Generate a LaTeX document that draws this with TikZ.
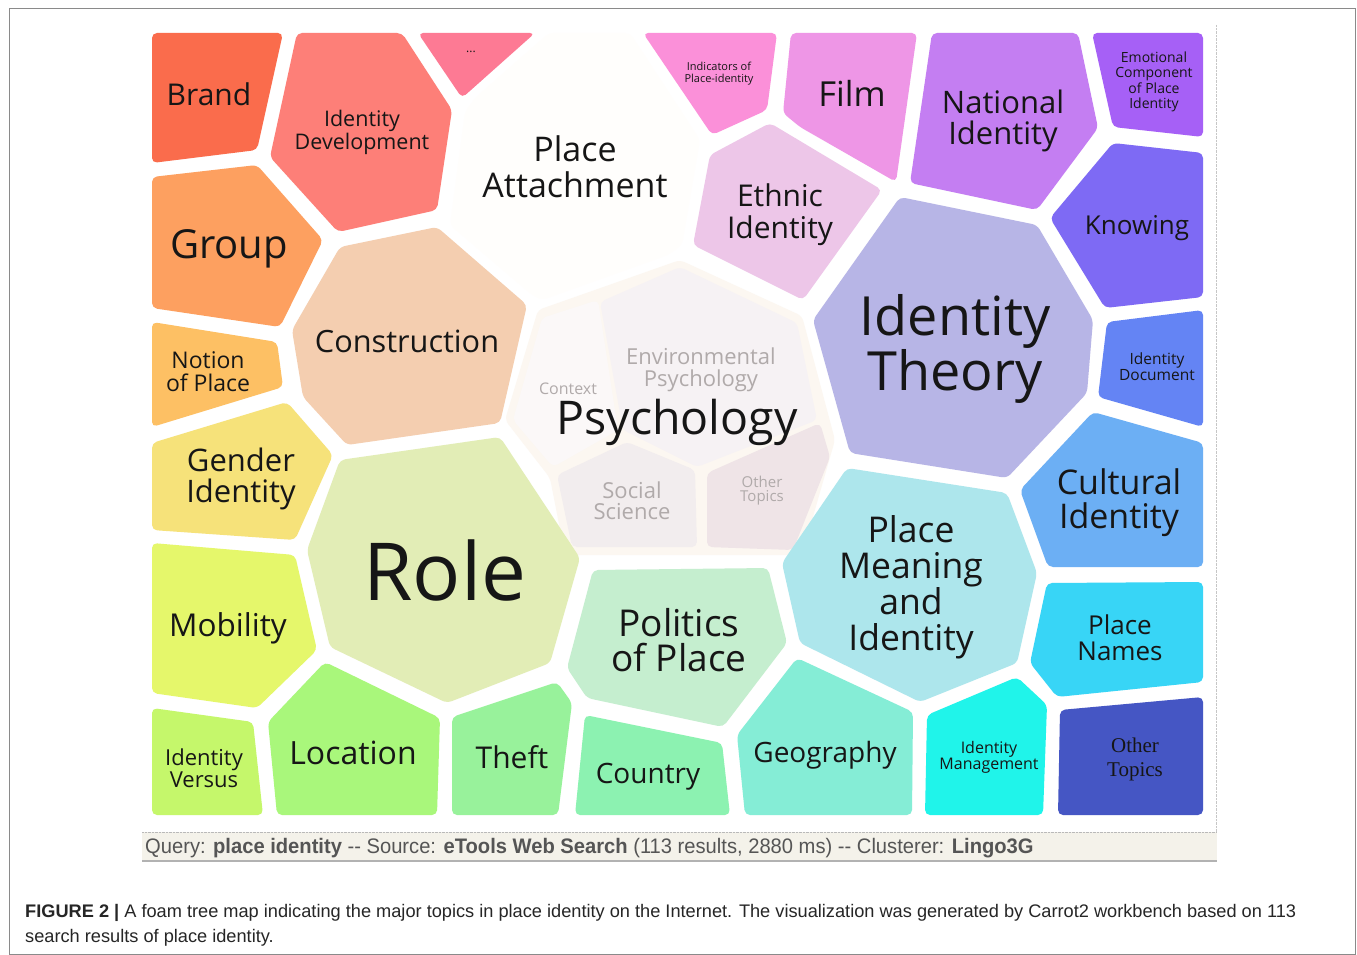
\documentclass[tikz,border=0pt]{standalone}
\usepackage{fontspec}
\setmainfont{Liberation Sans}
\newfontfamily\segoe{Open Sans}
\newfontfamily\timesfont{Liberation Serif}
\newfontfamily\statusfont[FakeStretch=0.96]{Liberation Sans}

\definecolor{cBrand}{HTML}{FA6C4C}
\definecolor{cIdDev}{HTML}{FD7F78}
\definecolor{cDots}{HTML}{FD7A94}
\definecolor{cAttach}{HTML}{FFFEFC}
\definecolor{cIndic}{HTML}{FB90D9}
\definecolor{cFilm}{HTML}{EE96E6}
\definecolor{cNation}{HTML}{C47EF2}
\definecolor{cEmot}{HTML}{A660F6}
\definecolor{cEthnic}{HTML}{EDC6E8}
\definecolor{cKnow}{HTML}{7E6AF4}
\definecolor{cGroup}{HTML}{FDA060}
\definecolor{cConstr}{HTML}{F4CEB0}
\definecolor{cTheory}{HTML}{B7B5E6}
\definecolor{cIdDoc}{HTML}{6484F4}
\definecolor{cNotion}{HTML}{FDC064}
\definecolor{cGender}{HTML}{F6E27A}
\definecolor{cPsyOut}{HTML}{FCF7F1}
\definecolor{cContext}{HTML}{FBF8F8}
\definecolor{cEnvPsy}{HTML}{F6F2F4}
\definecolor{cSocial}{HTML}{F2EDEE}
\definecolor{cPsyOther}{HTML}{EFE4E7}
\definecolor{cCultural}{HTML}{6CAFF4}
\definecolor{cRole}{HTML}{E2EDB6}
\definecolor{cMobil}{HTML}{E5F76B}
\definecolor{cPolit}{HTML}{C5EECF}
\definecolor{cMeaning}{HTML}{ADE6EC}
\definecolor{cNames}{HTML}{38D5F6}
\definecolor{cVersus}{HTML}{C5F76B}
\definecolor{cLocation}{HTML}{A9F77B}
\definecolor{cTheft}{HTML}{98F29B}
\definecolor{cCountry}{HTML}{8CF2B1}
\definecolor{cGeo}{HTML}{85EDD6}
\definecolor{cIdMan}{HTML}{20F4EA}
\definecolor{cOther}{HTML}{4556C4}
\definecolor{txt}{HTML}{161616}
\definecolor{psytxt}{HTML}{B0AAAA}
\definecolor{statbg}{HTML}{F4F2EA}
\definecolor{stattxt}{HTML}{555555}
\definecolor{frame}{HTML}{8A8A8A}

\tikzset{cell/.style={fill=#1, rounded corners=5pt},
  lbl/.style 2 args={font=\segoe\fontsize{#1}{#2}\selectfont, align=center,
    inner sep=0pt, text=txt}}

\begin{document}
\begin{tikzpicture}[x=1pt, y=-1pt]
	\useasboundingbox (0,0) rectangle (1357,955);
	\fill[white] (0,0) rectangle (1357,955);
	\draw[frame, line width=1pt] (9,9) rectangle (1355,954);
	% top row
	\fill[cell=cBrand] (152,33) -- (283,33) -- (257,150) -- (152,163) -- cycle;
	\fill[cell=cIdDev] (297,33) -- (402,33) -- (452,110) -- (437,210) -- (338,232) -- (270,157) -- cycle;
	\fill[cell=cDots] (418,33) -- (535,33) -- (462,98) -- cycle;
	\fill[cell=cAttach] (549,33) -- (630,33) -- (700,140) -- (682,245) -- (668,255) -- (542,300) -- (532,295) -- (450,225) -- (465,112) -- (475,98) -- cycle;
	\fill[cell=cIndic] (643,33) -- (777,33) -- (767,110) -- (712,135) -- cycle;
	\fill[cell=cFilm] (791,33) -- (917,33) -- (896,182) -- (800,127) -- (783,113) -- cycle;
	\fill[cell=cNation] (932,33) -- (1078,33) -- (1098,128) -- (1037,210) -- (910,183) -- cycle;
	\fill[cell=cEmot] (1092,33) -- (1203,33) -- (1203,137) -- (1113,127) -- cycle;
	\fill[cell=cEthnic] (710,155) -- (770,123) -- (882,190) -- (803,300) -- (693,245) -- cycle;
	\fill[cell=cKnow] (1113,143) -- (1203,153) -- (1203,297) -- (1105,308) -- (1050,218) -- cycle;
	% middle
	\fill[cell=cGroup] (152,177) -- (257,165) -- (323,240) -- (280,327) -- (152,308) -- cycle;
	\fill[cell=cConstr] (437,227) -- (527,305) -- (500,423) -- (347,445) -- (303,397) -- (292,330) -- (340,247) -- cycle;
	\fill[cell=cTheory] (900,197) -- (1037,225) -- (1093,320) -- (1087,393) -- (1007,478) -- (850,453) -- (813,320) -- cycle;
	\fill[cell=cIdDoc] (1107,322) -- (1203,310) -- (1203,427) -- (1098,397) -- cycle;
	\fill[cell=cNotion] (152,322) -- (277,342) -- (283,387) -- (152,427) -- cycle;
	\fill[cell=cGender] (152,443) -- (287,402) -- (333,455) -- (295,540) -- (152,530) -- cycle;
	\fill[cell=cCultural] (1093,412) -- (1203,443) -- (1203,567) -- (1048,567) -- (1020,490) -- cycle;
	% psychology group
	\fill[cell=cPsyOut] (538,310) -- (680,260) -- (802,316) -- (835,440) -- (802,555) -- (565,555) -- (550,478) -- (505,420) -- cycle;
	\fill[cell=cContext] (542,318) -- (598,300) -- (618,430) -- (553,467) -- (513,420) -- cycle;
	\fill[cell=cEnvPsy] (600,302) -- (680,267) -- (797,323) -- (817,420) -- (697,467) -- (623,430) -- cycle;
	\fill[cell=cSocial] (557,475) -- (627,442) -- (695,470) -- (697,547) -- (572,547) -- cycle;
	\fill[cell=cPsyOther] (707,473) -- (820,423) -- (830,457) -- (793,550) -- (707,547) -- cycle;
	% lower part
	\fill[cell=cRole] (340,460) -- (500,437) -- (580,558) -- (550,663) -- (447,703) -- (330,647) -- (307,550) -- cycle;
	\fill[cell=cMobil] (152,543) -- (295,555) -- (317,650) -- (257,708) -- (152,693) -- cycle;
	\fill[cell=cPolit] (593,570) -- (768,568) -- (787,643) -- (723,727) -- (587,698) -- (567,668) -- cycle;
	\fill[cell=cMeaning] (847,468) -- (1007,493) -- (1037,573) -- (1017,663) -- (920,702) -- (800,643) -- (782,563) -- cycle;
	\fill[cell=cNames] (1047,583) -- (1203,582) -- (1203,682) -- (1057,697) -- (1030,663) -- cycle;
	\fill[cell=cVersus] (152,708) -- (253,722) -- (263,815) -- (152,815) -- cycle;
	\fill[cell=cLocation] (268,722) -- (325,662) -- (440,718) -- (437,815) -- (277,815) -- cycle;
	\fill[cell=cTheft] (452,717) -- (557,682) -- (572,703) -- (558,815) -- (452,815) -- cycle;
	\fill[cell=cCountry] (585,715) -- (722,743) -- (730,815) -- (575,815) -- cycle;
	\fill[cell=cGeo] (737,735) -- (797,658) -- (913,712) -- (912,815) -- (745,815) -- cycle;
	\fill[cell=cIdMan] (927,715) -- (1017,677) -- (1047,705) -- (1043,815) -- (925,815) -- cycle;
	\fill[cell=cOther] (1060,710) -- (1203,697) -- (1203,815) -- (1058,815) -- cycle;
	% labels
	\node[lbl={30}{30}] (brand) at (209,94) {Brand};
	\node[lbl={21.5}{23}] (iddev) at (362,132) {Identity\\Development};
	\node[lbl={12}{12}] (dots) at (471,52) {...};
	\node[lbl={34}{36}] (attach) at (575,167) {Place\\Attachment};
	\node[lbl={11}{12}] (indic) at (719,74) {Indicators of\\Place-identity};
	\node[lbl={34.5}{34}] (film) at (852,93) {Film};
	\node[lbl={31}{31}] (nation) at (1003,121) {National\\Identity};
	\node[lbl={14}{15.5}] (emot) at (1154,82) {Emotional\\Component\\of Place\\Identity};
	\node[lbl={30}{32}] (ethnic) at (780,215) {Ethnic\\Identity};
	\node[lbl={26}{26}] (know) at (1137,228) {Knowing};
	\node[lbl={40}{40}] (group) at (229,249) {Group};
	\node[lbl={30.7}{31}] (constr) at (407,341) {Construction};
	\node[lbl={54}{53}] (theory) at (955,349) {Identity\\Theory};
	\node[lbl={15.5}{16}] (iddoc) at (1157,367) {Identity\\Document};
	\node[lbl={23}{23}] (notion) at (208,372) {Notion\\of Place};
	\node[lbl={22}{22}, text=psytxt] (envpsy) at (701,370) {Environmental\\Psychology};
	\node[lbl={16}{16}, text=psytxt] (context) at (568,389) {Context};
	\node[lbl={46.5}{47}] (psych) at (677,422) {Psychology};
	\node[lbl={31}{31}] (gender) at (241,479) {Gender\\Identity};
	\node[lbl={22}{21}, text=psytxt] (social) at (632,501) {Social\\Science};
	\node[lbl={15}{14}, text=psytxt] (psyother) at (762,491) {Other\\Topics};
	\node[lbl={34}{34}] (cultural) at (1119,503) {Cultural\\Identity};
	\node[lbl={80}{80}] (role) at (445,570) {Role};
	\node[lbl={35.5}{36}] (meaning) at (911,587) {Place\\Meaning\\and\\Identity};
	\node[lbl={31.5}{31}] (mobil) at (228,628) {Mobility};
	\node[lbl={37}{35}] (polit) at (679,640) {Politics\\of Place};
	\node[lbl={26}{26}] (names) at (1120,638) {Place\\Names};
	\node[lbl={22}{22}] (versus) at (204,768) {Identity\\Versus};
	\node[lbl={32}{32}] (location) at (353,753) {Location};
	\node[lbl={30}{30}] (theft) at (512,757) {Theft};
	\node[lbl={28}{28}] (country) at (648,777) {Country};
	\node[lbl={28}{28}] (geo) at (825,755) {Geography};
	\node[lbl={16}{16}] (idman) at (989,757) {Identity\\Management};
	\node[font=\timesfont\fontsize{21}{24}\selectfont, align=center, inner sep=0pt, text=txt] (other) at (1135,759) {Other\\Topics};
	% status bar
	\draw[gray!45, densely dotted] (1216,25) -- (1216,832);
	\fill[statbg] (142,832) rectangle (1217,862);
	\draw[gray!55, densely dotted] (142,832) -- (1217,832);
	\draw[gray!60, line width=2pt] (142,861) -- (1217,861);
	\node[anchor=west, font=\statusfont\fontsize{21}{21}\selectfont, text=stattxt, inner sep=0pt] (query) at (145,848)
		{Query: \textbf{place identity} -{}- Source: \textbf{eTools Web Search} (113 results, 2880 ms) -{}- Clusterer: \textbf{Lingo3G}};
	% caption
	\node[anchor=north west, align=left, inner sep=0pt, text=black!85, font=\fontsize{18.2}{25}\selectfont] (caption) at (25,904)
		{\textbf{FIGURE 2 |} A foam tree map indicating the major topics in place identity on the Internet. The visualization was generated by Carrot2 workbench based on 113\\search results of place identity.};
\end{tikzpicture}
\end{document}
